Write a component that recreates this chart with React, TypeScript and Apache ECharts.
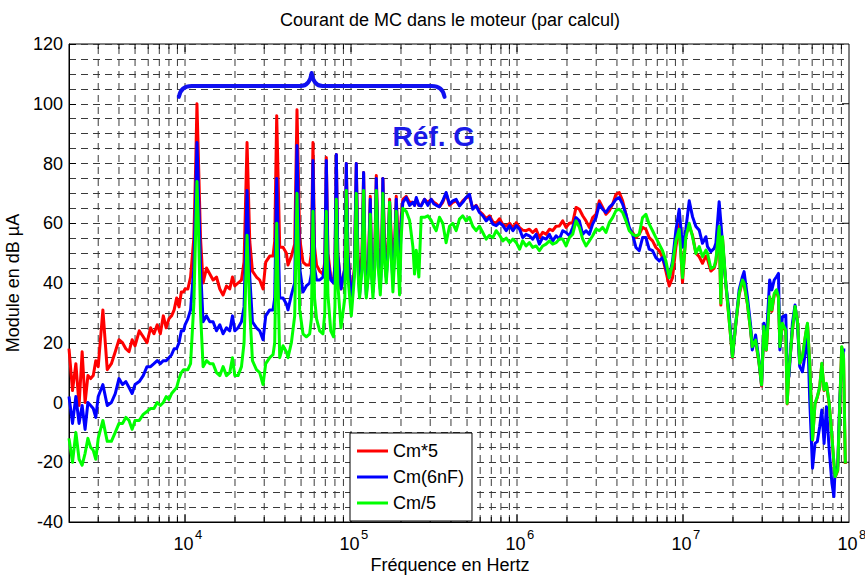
import React, { useEffect, useRef } from 'react';
import * as echarts from 'echarts';

// Frequencies (Hz) shared by the three curves
const freqHz = [
  2000, 2100, 2200, 2300, 2400, 2500, 2600, 2700, 2800, 2900,
  3000, 3200, 3400, 3600, 3800, 4000, 4200, 4400, 4600, 4800,
  5000, 5300, 5600, 5900, 6200, 6500, 6800, 7100, 7400, 7700,
  8000, 8300, 8600, 8900, 9200, 9500, 9800, 10000, 10400, 10800,
  11300, 11600, 11800, 12000, 12400, 12850, 13470, 14100, 14760, 15470,
  16200, 16950, 17770, 18600, 19310, 19940, 20870, 21880, 22680, 23640,
  24550, 25480, 26930, 28180, 29510, 30630, 32370, 33900, 34700, 35670,
  37190, 38940, 40810, 41720, 43730, 45780, 47270, 49060, 51360, 53830,
  56360, 57700, 58990, 60300, 62000, 64740, 67740, 69500, 71000, 72600,
  75500, 78500, 80000, 81570, 83200, 87000, 91800, 93700, 95800, 100400,
  104800, 107600, 110000, 112600, 116500, 119100, 121500, 123600, 127500, 130600,
  133000, 135500, 139000, 142000, 146000, 150100, 153000, 155600, 159000, 163000,
  167000, 170800, 175000, 178800, 183000, 187300, 191500, 196100, 200500, 205300,
  215100, 225300, 236000, 241400, 247200, 256300, 264700, 277100, 290200, 304000,
  315000, 326000, 341000, 357000, 374000, 392000, 410000, 430000, 450000, 471000,
  493000, 517000, 541000, 567000, 594000, 622000, 652000, 683000, 715000, 749000,
  785000, 822000, 861000, 902000, 945000, 990000, 1037000,
  1082000, 1134000, 1187000, 1243000, 1303000, 1364000, 1428000, 1496000, 1567000, 1641000,
  1719000, 1800000, 1885000, 1974000, 2067000, 2165000, 2268000, 2375000, 2487000, 2604000,
  2727000, 2856000, 2991000, 3132000, 3280000, 3435000, 3597000, 3767000, 3945000, 4131000,
  4327000, 4531000, 4745000, 4969000, 5204000, 5449000, 5707000, 5977000, 6259000, 6555000,
  6865000, 7189000, 7529000, 7885000, 8258000, 8648000, 9057000, 9485000, 9933000, 10400000,
  10900000,
  11410000, 11960000, 12520000, 13100000, 13740000, 14040000, 14720000, 15410000, 15780000, 16510000,
  16900000, 17290000, 18110000, 18970000, 19860000, 20800000, 21780000, 22800000, 23330000, 24430000,
  25590000, 26140000, 27370000, 28660000, 29730000, 30700000, 31760000, 33270000, 34300000, 35450000,
  36560000, 37590000, 38340000, 39700000, 41600000, 42400000, 43500000, 45600000, 47300000, 48900000,
  50500000, 52400000, 54900000, 56200000, 58000000, 60300000, 62400000, 64400000, 66600000, 68600000,
  70800000, 73100000, 76000000, 78900000, 81100000, 82500000, 85500000, 88000000, 90400000, 92700000,
  95000000,
];

// Cm*5 (red), dB µA
const cm5 = [
  18, 4, 13, -1, 17, 0, 9, 8, 9, 14,
  12, 31, 11, 13, 17, 21, 20, 18, 17, 21,
  19, 24, 22, 20, 25, 23, 26, 23, 29, 25,
  28, 29, 31, 35, 32, 37, 37, 38, 38, 42,
  55, 80, 100, 85, 55, 40, 45, 43, 41, 42,
  38, 36, 39, 38, 42, 39, 40, 41, 47, 87,
  54, 44, 42, 41, 38, 47, 49, 49, 54, 96,
  52, 52, 50, 46, 49, 53, 98, 55, 47, 46,
  46, 50, 87, 52, 46, 44, 43, 47, 82, 50,
  42, 40, 46, 83, 50, 38, 45, 80, 50, 35,
  45, 80, 50, 40, 50, 77, 48, 40, 48, 69,
  47, 41, 50, 76, 52, 42, 50, 75, 55, 45,
  52, 68, 55, 45, 52, 69, 56, 48, 62, 68,
  69, 67, 67, 66, 68, 66, 66, 68, 67, 68,
  67, 66.5, 65.5, 67, 70, 66, 67, 67.5, 66, 67.5,
  68.5, 69, 65, 66, 64, 63, 61.5, 62.5, 60.5, 60,
  61.5, 59.5, 59, 60, 58.5, 60.2, 58.5,
  57.7, 57.5, 58, 56.9, 58, 55.2, 57, 56.3, 58, 57.5,
  59, 59.1, 60.8, 58.6, 60, 60.2, 65.3, 64.7, 62.5, 60.8,
  58.6, 61.9, 63, 67.5, 65.3, 63, 64.2, 66.4, 69.7, 70.3,
  67.5, 63, 58, 56.9, 55.2, 56.3, 58.6, 58, 55.2, 54.1,
  51.9, 50.8, 48.5, 44, 39, 41.8, 51.9, 59.7, 40.2, 56.3,
  59,
  56, 50, 48.8, 46.6, 49, 48, 44, 45, 47, 58.5,
  32.6, 55, 39.5, 27.6, 15, 26, 36, 40.5, 39.5, 33,
  23.5, 18.5, 20.5, 13.5, 5.5, 25, 17.5, 35, 30.5, 36,
  37.5, 35, 18.5, 26, 24, -0.5, 10.5, 24, 32, 27.5,
  13, 15, 23, 26.3, 13, -12.7, -0.5, 1.7, 5, 13,
  4, 6.2, -0.5, -11.6, -20.2, -25, -22.8, -0.5, 18.5, 15,
  -20.6,
];

// Cm(6nF) (blue), dB µA
const cm6nF = [
  2, -7, 2, -7, -1, -9, 0, -1, -2, -5,
  2, 6, -1, 0, 3, 8, 6, 7, 5, 3,
  6, 7, 9, 12, 12, 13, 14, 13, 14, 14,
  15, 16, 18, 18, 20, 24, 24, 26, 28, 31,
  45, 70, 87, 75, 45, 27, 29, 27, 27, 24,
  26, 23, 25, 24, 29, 24, 25, 27, 32, 71,
  42, 27, 25, 24, 21, 29, 31, 31, 35, 75,
  35, 35, 33, 31, 36, 40, 86, 45, 37, 39,
  40, 43, 81, 45, 41, 41, 42, 46, 81, 48,
  41, 40, 46, 83, 50, 38, 45, 80, 50, 34,
  44, 80, 48, 36, 46, 77, 45, 36, 45, 68,
  44, 37, 46, 75, 48, 38, 48, 75, 50, 42,
  50, 67, 50, 40, 50, 68, 52, 42, 60, 67,
  68.6, 66, 67, 66, 68.6, 66, 65.8, 68, 66, 68,
  66.5, 66, 65.5, 67.5, 70.3, 66.4, 67.5, 68, 65.8, 67,
  68.6, 69.7, 64.7, 65.8, 63.6, 62.5, 60.8, 62, 59.7, 59.2,
  60.2, 59.2, 57.5, 59.2, 57.5, 59.2, 58,
  55.2, 56.3, 55.8, 54.7, 56.3, 53, 55.2, 54.7, 56.3, 54.1,
  55.8, 54.7, 57.5, 56.9, 55.8, 58.6, 61.9, 60.8, 56.3, 57.5,
  56.3, 59.7, 61.9, 66.4, 64.7, 63.6, 65.3, 66.4, 68, 68.6,
  66.4, 63, 58.6, 56.3, 51.9, 50.8, 55.2, 55.2, 51.3, 50.8,
  48.5, 47.4, 48.5, 45.2, 41.8, 47.4, 57.5, 64.7, 52, 58,
  67.5,
  62.2, 58.9, 57.7, 53.3, 55.5, 52.2, 50.5, 51.6, 53.3, 67.2,
  60.5, 53.3, 39.9, 29.9, 15.3, 26.5, 37.7, 42.1, 43.8, 35.4,
  25.4, 17.6, 22.6, 14.2, 5.9, 26.5, 20.9, 41, 37.7, 41,
  42.1, 43.2, 17.6, 28.7, 29.3, 12, 8.7, 26.5, 32.6, 26.5,
  12, 10.3, 17.6, 26, 0.8, -22, -13.7, -13.1, -8.1, -2.5,
  -13.7, -1.4, -15.9, -27, -31.5, -22, -21.5, 0.8, 13.1, 17.6,
  17.6,
];

// Cm/5 (green), dB µA
const cmDiv5 = [
  -12, -20, -10, -19, -21, -17, -12, -15, -16, -19,
  -12, -6, -13, -13, -10, -7, -7, -5, -6, -9,
  -6, -6, -4, -3, -2, -2, 0, -1, 0, 2,
  1, 3, 4, 5, 8, 10, 11, 11, 11, 13,
  33, 58, 74, 62, 30, 12, 14, 13, 13, 10,
  9, 12, 9, 10, 15, 9, 9, 12, 20, 56,
  31, 14, 11, 10, 6, 13, 15, 16, 20, 60,
  15, 19, 17, 15, 20, 29, 70, 31, 23, 22,
  23, 28, 64, 35, 28, 24, 23, 30, 64, 36,
  24, 22, 32, 68, 40, 25, 35, 71, 42, 29,
  42, 70, 44, 35, 45, 71, 44, 35, 43, 63,
  42, 35, 45, 71, 45, 36, 46, 70, 48, 40,
  49, 67, 48, 37, 48, 64, 48, 36, 55, 65,
  64, 61, 52, 43, 51, 42, 62, 62, 62.5, 61,
  59, 57.5, 62, 60, 53.5, 59, 60, 57.5, 61.4, 62.5,
  60.8, 62, 59, 57.5, 59, 56.9, 54.7, 56, 55.2, 57.5,
  56, 54.1, 55, 53.5, 54.7, 53.5, 51.3,
  54.1, 52.4, 53.5, 51.9, 52.4, 50.8, 52.4, 53, 54.1, 53,
  53.5, 54.7, 54.7, 52.4, 55.2, 56.3, 60.8, 58.6, 54.7, 52.4,
  54.1, 55.8, 58, 57.5, 58.6, 56.9, 60.2, 61.9, 64.2, 64.7,
  63.6, 60.8, 57.5, 56.3, 55.8, 56.3, 61.9, 63, 59.7, 57.5,
  55.2, 53, 50.8, 47.4, 41.8, 46.3, 54.1, 58, 41.8, 55.2,
  60,
  55.5, 49.9, 52.2, 48.8, 51, 50, 44.9, 45.5, 47.7, 58.9,
  33.2, 55.5, 39.9, 27.6, 15.3, 26.5, 36.5, 41, 39.9, 33.2,
  23.7, 18.7, 20.9, 13.7, 5.9, 25.4, 17.6, 35.4, 31, 36.5,
  37.7, 35.4, 18.7, 26.5, 24.3, -0.3, 10.9, 24.3, 32.1, 27.6,
  13.1, 15.3, 23.2, 26.5, 13.1, -12.5, -0.3, 1.9, 5.3, 13.1,
  4.2, 6.4, -0.3, -11.4, -20, -24.8, -22.6, -0.3, 18.7, 15.3,
  -20.4,
];

// Logarithmic grid lines (Hz)
const gridFreqs = [
  3000, 4000, 5000, 6000, 7000, 8000, 9000,
  1e4, 2e4, 3e4, 4e4, 5e4, 6e4, 7e4, 8e4, 9e4,
  1e5, 2e5, 3e5, 4e5, 5e5, 6e5, 7e5, 8e5, 9e5,
  1e6, 2e6, 3e6, 4e6, 5e6, 6e6, 7e6, 8e6, 9e6,
  1e7, 2e7, 3e7, 4e7, 5e7, 6e7, 7e7, 8e7, 9e7,
];

// Labelled decades (Hz) and their exponents
const decadeTicks = [1e4, 1e5, 1e6, 1e7, 1e8];
const decadeExponents = ['4', '5', '6', '7', '8'];

// y tick values (dB) for right-side ticks
const yTickLevels = [-20, 0, 20, 40, 60, 80, 100];

const seriesNames = ['Cm*5', 'Cm(6nF)', 'Cm/5'];
const seriesColors = ['#ff0000', '#0000ff', '#00ff00'];

const titleText = 'Courant de MC dans le moteur (par calcul)';
const xName = 'Fréquence en Hertz';
const yName = 'Module en dB µA';
const annotText = 'Réf. G';

// Brace anchor points (Hz, dB)
const braceLeft = [9180, 102.3];
const bracePeak = [57900, 110.3];
const braceRight = [366000, 102.3];
const braceLevel = 105.9;
const annotAnchor = [178000, 89];

export default function App() {
  const ref = useRef<HTMLDivElement>(null);

  useEffect(() => {
    const el = ref.current;
    if (!el) return;
    const chart = echarts.init(el, null, { renderer: 'svg' });
    const font = '"Liberation Sans", Arial, Helvetica, sans-serif';
    const gridColor = '#3a3a3a';
    const dash = [7, 5];

    const mk = (vals: number[]) => freqHz.map((f, i) => [f, vals[i]]);
    const values = [cm5, cm6nF, cmDiv5];

    const lineSeries = values.map((vals, k) => ({
      type: 'line',
      name: seriesNames[k],
      data: mk(vals),
      showSymbol: false,
      symbol: 'none',
      silent: true,
      z: 3 + k,
      lineStyle: { color: seriesColors[k], width: 3, join: 'round' },
      itemStyle: { color: seriesColors[k] },
    }));

    const vGrid = {
      type: 'custom',
      silent: true,
      z: 1,
      data: gridFreqs.map((f) => [f, 0]),
      renderItem: (_p: any, api: any) => {
        const f = api.value(0);
        const b = api.coord([f, -40]);
        const t = api.coord([f, 120]);
        const lg = Math.log10(f);
        const major = Math.abs(lg - Math.round(lg)) < 1e-6;
        const tl = major ? 8 : 5;
        return {
          type: 'group',
          children: [
            { type: 'line', shape: { x1: b[0], y1: b[1], x2: t[0], y2: t[1] }, style: { stroke: gridColor, lineWidth: 1, lineDash: dash } },
            { type: 'line', shape: { x1: b[0], y1: b[1], x2: b[0], y2: b[1] - tl }, style: { stroke: '#000', lineWidth: 1 } },
            { type: 'line', shape: { x1: t[0], y1: t[1], x2: t[0], y2: t[1] + tl }, style: { stroke: '#000', lineWidth: 1 } },
          ],
        };
      },
    };

    const rightTicks = {
      type: 'custom',
      silent: true,
      z: 1,
      data: yTickLevels.map((v) => [1e8, v]),
      renderItem: (_p: any, api: any) => {
        const p = api.coord([1e8, api.value(1)]);
        return { type: 'line', shape: { x1: p[0], y1: p[1], x2: p[0] - 7, y2: p[1] }, style: { stroke: '#000', lineWidth: 1 } };
      },
    };

    const exponents = {
      type: 'custom',
      silent: true,
      clip: false,
      z: 5,
      data: decadeTicks.map((f, i) => [f, -40, i]),
      renderItem: (_p: any, api: any) => {
        const p = api.coord([api.value(0), -40]);
        const idx = api.value(2);
        return {
          type: 'text',
          x: p[0] + 10,
          y: p[1] + 12,
          style: { text: decadeExponents[idx], fontSize: 13, fontFamily: font, fill: '#000', align: 'left', verticalAlign: 'middle' },
        };
      },
    };

    const annot = {
      type: 'custom',
      silent: true,
      z: 10,
      data: [[1e5, 100]],
      renderItem: (_p: any, api: any) => {
        const A = api.coord(braceLeft);
        const P = api.coord(bracePeak);
        const B = api.coord(braceRight);
        const yh = api.coord([1e5, braceLevel])[1];
        const T = api.coord(annotAnchor);
        const d = [
          `M${A[0]} ${A[1]}`,
          `Q${A[0] + 2} ${yh} ${A[0] + 13} ${yh}`,
          `L${P[0] - 11} ${yh}`,
          `Q${P[0] - 2} ${yh} ${P[0]} ${P[1]}`,
          `Q${P[0] + 2} ${yh} ${P[0] + 11} ${yh}`,
          `L${B[0] - 13} ${yh}`,
          `Q${B[0] - 2} ${yh} ${B[0]} ${B[1]}`,
        ].join(' ');
        return {
          type: 'group',
          children: [
            { type: 'path', shape: { pathData: d }, style: { stroke: '#1010f0', lineWidth: 4, fill: 'none', lineCap: 'round', lineJoin: 'round' } },
            {
              type: 'text',
              x: T[0],
              y: T[1],
              style: { text: annotText, fill: '#1a1ae8', fontSize: 28, fontWeight: 'bold', fontFamily: font, align: 'left', verticalAlign: 'middle' },
            },
          ],
        };
      },
    };

    chart.setOption({
      animation: false,
      backgroundColor: '#ffffff',
      textStyle: { fontFamily: font },
      graphic: [
        {
          type: 'text',
          x: 450,
          y: 20,
          style: { text: titleText, fontSize: 18, fontFamily: font, fill: '#000', align: 'center', verticalAlign: 'middle' },
        },
      ],
      grid: {
        left: 69, top: 44, width: 780, height: 478,
        containLabel: false, outerBoundsMode: 'none',
        show: true, borderColor: '#000', borderWidth: 1, backgroundColor: 'transparent',
      },
      xAxis: {
        type: 'log',
        logBase: 10,
        min: 2000,
        max: 1e8,
        axisLine: { show: true, onZero: false, lineStyle: { color: '#000', width: 1 } },
        axisTick: { show: false },
        splitLine: { show: false },
        axisLabel: {
          margin: 14,
          color: '#000',
          fontSize: 18,
          fontFamily: font,
          lineHeight: 15,
          padding: [0, 3, 0, 0],
          formatter: (v: number) => {
            const lg = Math.log10(v);
            return Math.abs(lg - Math.round(lg)) > 1e-6 ? '' : '10';
          },
        },
        name: xName,
        nameLocation: 'middle',
        nameGap: 35,
        nameMoveOverlap: false,
        nameTextStyle: { fontSize: 18, fontFamily: font, color: '#000', lineHeight: 16, padding: [0, 18, 0, 0] },
      },
      yAxis: {
        type: 'value',
        min: -40,
        max: 120,
        interval: 20,
        axisLine: { show: true, onZero: false, lineStyle: { color: '#000', width: 1 } },
        axisTick: { show: true, inside: true, length: 7, lineStyle: { color: '#000' } },
        minorTick: { show: false, splitNumber: 4 },
        splitLine: { show: true, lineStyle: { color: gridColor, width: 1, type: dash } },
        minorSplitLine: { show: true, lineStyle: { color: gridColor, width: 1, type: dash } },
        axisLabel: { fontSize: 18, fontFamily: font, color: '#000', margin: 6 },
        name: yName,
        nameLocation: 'middle',
        nameGap: 40,
        nameTextStyle: { fontSize: 18, fontFamily: font, color: '#000' },
      },
      legend: {
        data: seriesNames,
        orient: 'vertical',
        left: 350,
        top: 433,
        backgroundColor: '#fff',
        borderColor: '#000',
        borderWidth: 1,
        borderRadius: 0,
        padding: [9, 8, 9, 7],
        itemGap: 8,
        itemWidth: 31,
        itemHeight: 3,
        icon: 'rect',
        selectedMode: false,
        z: 20,
        textStyle: { fontSize: 18, fontFamily: font, color: '#000', lineHeight: 18 },
      },
      series: [vGrid, rightTicks, ...lineSeries, annot, exponents],
    });

    return () => chart.dispose();
  }, []);

  return (
    <div
      ref={ref}
      style={{ position: 'fixed', left: 0, top: 0, width: 865, height: 575, background: '#fff' }}
    />
  );
}
